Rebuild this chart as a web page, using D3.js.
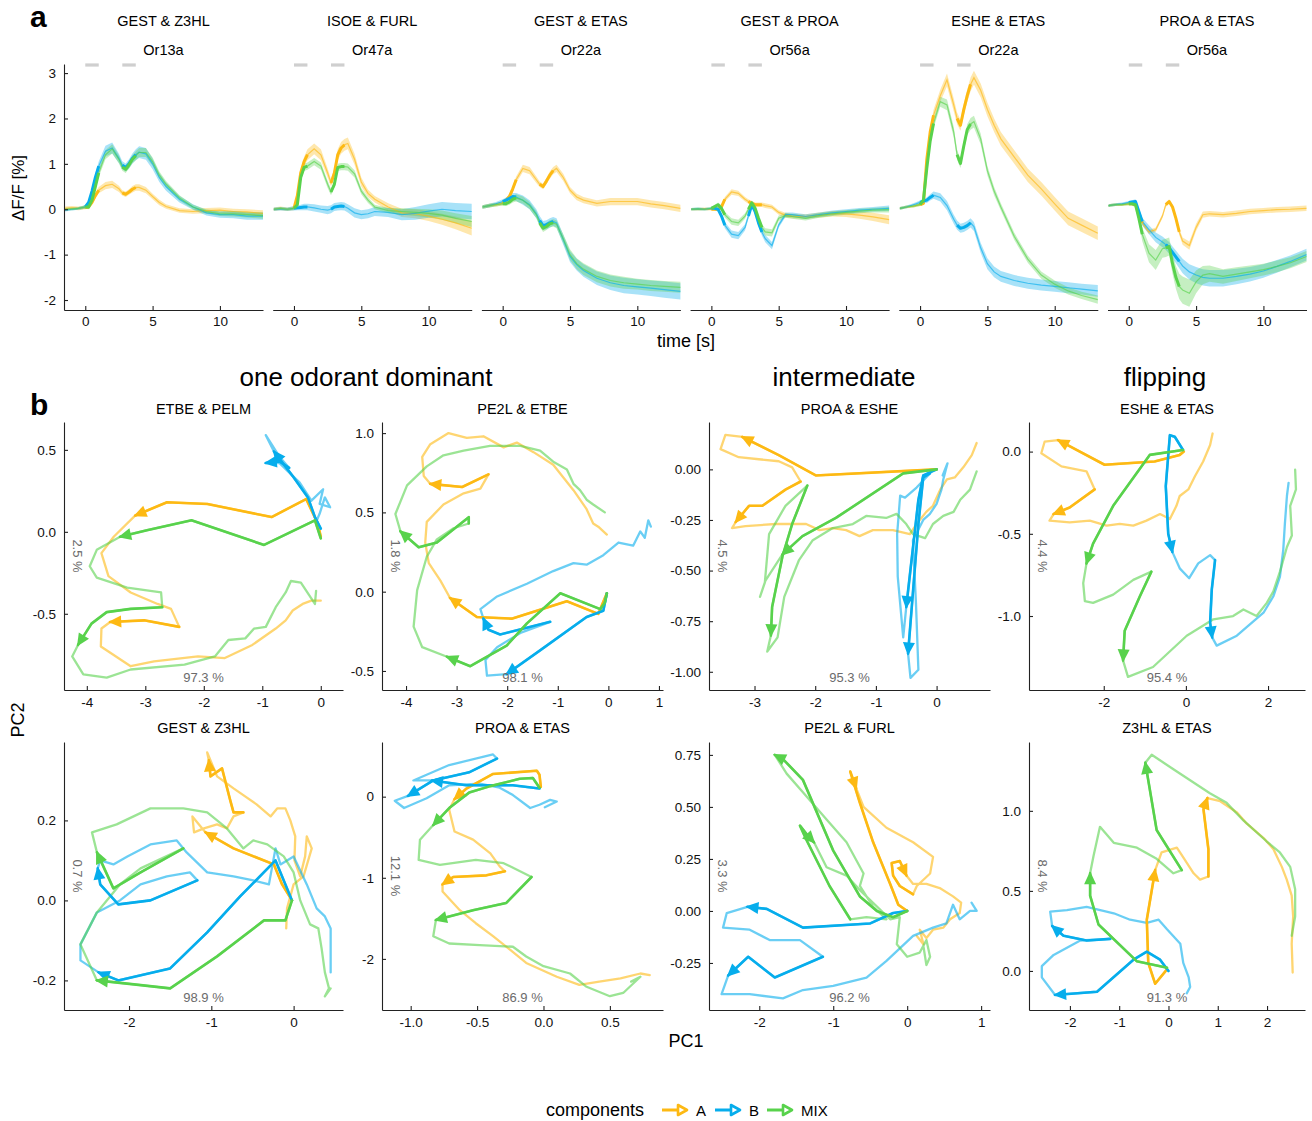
<!DOCTYPE html>
<html><head><meta charset="utf-8">
<script src="https://cdn.jsdelivr.net/npm/d3@7"></script>
<style>
body{margin:0;background:#fff}
svg{font-family:"Liberation Sans",Arial,Helvetica,sans-serif}
</style>
</head><body>
<svg id="c" width="1312" height="1121"></svg>
<script>
// ---------------- DATA: panel a ----------------
const aTitles = ["GEST & Z3HL","ISOE & FURL","GEST & ETAS","GEST & PROA","ESHE & ETAS","PROA & ETAS"];
const aReceptors = ["Or13a","Or47a","Or22a","Or56a","Or22a","Or56a"];
const aTime = [-1.5,-1,-0.5,0,0.25,0.5,0.75,1,1.5,2,2.5,2.75,3,3.25,3.5,3.75,4,4.5,5,5.5,6,7,8,9,10,11,12,13.2];
const aXTicks = [0,5,10];
const aYTicks = [-2,-1,0,1,2,3];
const stimWindows = [[0,1],[2.75,3.75]];

const meanA = [
 [0.02,0.03,0.02,0.04,0.05,0.15,0.3,0.42,0.52,0.55,0.45,0.36,0.33,0.38,0.44,0.48,0.48,0.42,0.28,0.15,0.06,-0.03,-0.05,-0.03,-0.02,-0.05,-0.06,-0.09],
 [0.0,0.02,0.0,0.02,0.3,0.8,1.05,1.2,1.33,1.2,0.8,0.58,0.8,1.2,1.35,1.42,1.45,1.1,0.6,0.35,0.22,0.05,-0.08,-0.1,-0.15,-0.22,-0.3,-0.42],
 [0.05,0.08,0.1,0.13,0.2,0.28,0.45,0.65,0.9,0.85,0.65,0.55,0.5,0.62,0.75,0.85,0.9,0.7,0.42,0.27,0.2,0.13,0.17,0.17,0.17,0.12,0.08,0.02],
 [0.0,0.0,0.01,0.0,0.0,0.0,0.05,0.22,0.38,0.35,0.22,0.17,0.13,0.1,0.1,0.1,0.08,0.05,-0.07,-0.13,-0.15,-0.16,-0.13,-0.1,-0.1,-0.13,-0.17,-0.23],
 [0.02,0.05,0.07,0.1,0.13,1.1,1.7,2.07,2.5,2.85,2.3,2.0,1.85,2.2,2.5,2.75,2.9,2.62,2.2,1.85,1.55,1.15,0.75,0.45,0.12,-0.2,-0.35,-0.53],
 [0.08,0.1,0.1,0.12,0.12,0.1,-0.1,-0.3,-0.5,-0.45,-0.15,0.1,0.17,0.05,-0.2,-0.5,-0.7,-0.8,-0.4,-0.12,-0.1,-0.12,-0.09,-0.05,-0.03,-0.01,0.0,0.02]
];
const meanB = [
 [-0.02,0.0,0.02,0.05,0.15,0.4,0.7,0.95,1.28,1.35,1.12,0.97,0.92,1.0,1.12,1.2,1.26,1.22,1.0,0.7,0.5,0.22,0.05,-0.08,-0.12,-0.12,-0.15,-0.15],
 [0.0,0.01,0.0,0.02,0.03,0.04,0.05,0.05,0.03,0.0,-0.02,0.0,0.05,0.06,0.07,0.06,0.02,-0.08,-0.12,-0.1,-0.05,-0.07,-0.12,-0.09,-0.04,0.0,-0.03,-0.05],
 [0.05,0.08,0.12,0.17,0.2,0.24,0.28,0.27,0.2,0.1,-0.1,-0.25,-0.36,-0.34,-0.3,-0.27,-0.3,-0.67,-1.04,-1.22,-1.35,-1.52,-1.62,-1.68,-1.71,-1.74,-1.77,-1.81],
 [0.0,0.01,0.0,0.02,0.02,0.0,-0.15,-0.35,-0.55,-0.58,-0.4,-0.15,0.1,-0.05,-0.3,-0.5,-0.65,-0.8,-0.35,-0.12,-0.12,-0.16,-0.12,-0.08,-0.05,-0.02,0.0,0.02],
 [0.02,0.05,0.1,0.15,0.18,0.2,0.26,0.31,0.26,0.08,-0.22,-0.35,-0.42,-0.4,-0.36,-0.3,-0.38,-0.85,-1.2,-1.38,-1.48,-1.57,-1.63,-1.67,-1.7,-1.73,-1.76,-1.8],
 [0.08,0.1,0.12,0.15,0.16,0.17,-0.05,-0.27,-0.45,-0.62,-0.72,-0.78,-0.85,-0.95,-1.05,-1.15,-1.25,-1.38,-1.45,-1.5,-1.52,-1.52,-1.48,-1.43,-1.36,-1.26,-1.15,-1.0]
];
const meanMIX = [
 [0.0,0.01,0.02,0.05,0.05,0.2,0.5,0.8,1.2,1.33,1.1,0.93,0.88,0.98,1.1,1.18,1.25,1.25,1.05,0.75,0.55,0.25,0.05,-0.05,-0.1,-0.1,-0.12,-0.14],
 [0.0,0.02,0.0,0.02,0.1,0.7,0.92,0.95,1.05,0.95,0.55,0.38,0.55,0.92,0.94,0.94,0.93,0.78,0.4,0.2,0.05,-0.03,-0.05,-0.07,-0.09,-0.13,-0.2,-0.27],
 [0.05,0.08,0.1,0.12,0.12,0.16,0.22,0.25,0.2,0.08,-0.12,-0.3,-0.42,-0.38,-0.32,-0.3,-0.33,-0.65,-1.0,-1.2,-1.32,-1.48,-1.57,-1.62,-1.65,-1.68,-1.7,-1.72],
 [0.0,0.01,0.0,0.02,0.06,0.1,0.02,-0.12,-0.27,-0.3,-0.15,0.0,0.14,0.02,-0.2,-0.4,-0.5,-0.52,-0.2,-0.14,-0.16,-0.2,-0.14,-0.1,-0.07,-0.04,-0.02,-0.01],
 [0.02,0.05,0.07,0.1,0.2,0.9,1.5,1.89,2.37,2.3,1.7,1.2,1.01,1.4,1.75,1.88,1.93,1.55,0.85,0.4,0.05,-0.6,-1.1,-1.45,-1.65,-1.8,-1.9,-1.99],
 [0.08,0.1,0.1,0.12,0.12,0.1,-0.2,-0.55,-0.97,-1.12,-0.87,-0.85,-0.82,-1.2,-1.5,-1.7,-1.78,-1.85,-1.6,-1.45,-1.42,-1.48,-1.43,-1.38,-1.33,-1.26,-1.18,-1.04]
];
const semA = [
 [.04,.04,.04,.04,.04,.05,.06,.07,.08,.08,.07,.06,.06,.06,.07,.07,.07,.07,.06,.06,.05,.05,.05,.06,.06,.06,.06,.07],
 [.04,.04,.04,.04,.05,.08,.1,.12,.12,.12,.1,.08,.1,.12,.13,.13,.13,.12,.1,.08,.07,.08,.09,.1,.11,.12,.14,.16],
 [.04,.04,.04,.04,.05,.06,.07,.07,.08,.08,.07,.06,.06,.07,.08,.08,.08,.08,.07,.07,.07,.07,.08,.08,.08,.08,.08,.08],
 [.03,.03,.03,.03,.03,.04,.05,.05,.06,.06,.05,.05,.05,.05,.05,.05,.05,.05,.05,.05,.05,.05,.06,.06,.07,.08,.09,.1],
 [.03,.03,.03,.03,.04,.08,.1,.12,.13,.14,.14,.13,.12,.13,.14,.15,.15,.15,.15,.15,.15,.15,.15,.15,.15,.15,.15,.15],
 [.03,.03,.03,.03,.03,.04,.05,.05,.05,.05,.05,.05,.05,.05,.06,.07,.08,.09,.08,.07,.06,.06,.06,.06,.06,.06,.06,.06]
];
const semB = [
 [.03,.03,.03,.04,.05,.07,.08,.1,.12,.12,.1,.09,.09,.1,.11,.12,.13,.13,.12,.1,.09,.07,.06,.06,.07,.08,.08,.08],
 [.04,.04,.04,.05,.05,.06,.07,.07,.08,.08,.09,.09,.09,.09,.09,.09,.09,.1,.1,.1,.1,.1,.12,.14,.15,.16,.17,.17],
 [.04,.04,.04,.05,.06,.07,.08,.09,.1,.1,.1,.1,.1,.1,.1,.1,.1,.11,.12,.13,.14,.15,.16,.17,.17,.17,.18,.18],
 [.03,.03,.03,.03,.04,.05,.06,.07,.08,.08,.07,.06,.06,.06,.07,.08,.08,.08,.06,.05,.05,.05,.05,.05,.05,.05,.05,.06],
 [.03,.03,.03,.04,.05,.06,.07,.08,.09,.1,.1,.1,.1,.1,.1,.1,.1,.11,.12,.12,.12,.12,.12,.12,.12,.12,.12,.13],
 [.03,.03,.03,.03,.04,.05,.06,.08,.1,.11,.12,.12,.13,.13,.14,.15,.16,.17,.18,.18,.18,.18,.17,.16,.15,.14,.13,.13]
];
const semMIX = [
 [.03,.03,.03,.04,.05,.06,.08,.09,.1,.1,.09,.08,.08,.08,.09,.1,.1,.1,.09,.08,.07,.06,.05,.05,.05,.06,.06,.07],
 [.03,.03,.03,.03,.04,.07,.08,.08,.08,.08,.08,.07,.07,.08,.08,.08,.08,.08,.07,.06,.05,.06,.07,.08,.09,.1,.11,.12],
 [.04,.04,.04,.04,.05,.06,.07,.08,.08,.08,.08,.08,.08,.08,.08,.08,.09,.1,.12,.12,.13,.13,.13,.13,.12,.12,.12,.12],
 [.03,.03,.03,.03,.04,.05,.06,.06,.07,.07,.06,.05,.05,.05,.06,.07,.08,.08,.06,.05,.05,.05,.05,.05,.05,.05,.05,.06],
 [.03,.03,.03,.03,.04,.07,.09,.1,.11,.12,.12,.11,.1,.11,.12,.13,.13,.12,.1,.09,.08,.08,.08,.08,.08,.08,.08,.09],
 [.03,.03,.03,.03,.04,.06,.1,.15,.2,.22,.2,.2,.2,.22,.25,.28,.3,.3,.25,.2,.18,.16,.15,.14,.13,.13,.12,.12]
];

// ---------------- DATA: panel b (PC1, PC2, during-stimulus flag) ----------------
const bTitles = ["ETBE & PELM","PE2L & ETBE","PROA & ESHE","ESHE & ETAS","GEST & Z3HL","PROA & ETAS","PE2L & FURL","Z3HL & ETAS"];
const pc1Var = [97.3,98.1,95.3,95.4,98.9,86.9,96.2,91.3];
const pc2Var = [2.5,1.8,4.5,4.4,0.7,12.1,3.3,8.4];
const groupLabels = ["one odorant dominant","intermediate","flipping"];
const bXTicks = [[-4,-3,-2,-1,0],[-4,-3,-2,-1,0,1],[-3,-2,-1,0],[-2,0,2],[-2,-1,0],[-1,-0.5,0,0.5],[-2,-1,0,1],[-2,-1,0,1,2]];
const bYTicks = [[-0.5,0,0.5],[-0.5,0,0.5,1],[-1,-0.75,-0.5,-0.25,0],[-1,-0.5,0],[-0.2,0,0.2],[-2,-1,0],[-0.25,0,0.25,0.5,0.75],[0,0.5,1]];
const bXFmt = ["d","d","d","d","d",".1f","d","d"];
const bYFmt = [".1f",".1f",".2f",".1f",".1f","d",".2f",".1f"];
const bXDom = [[-4.39,0.38],[-4.475,1.08],[-3.75,0.88],[-3.82,2.9],[-2.79,0.6],[-1.216,0.9],[-2.68,1.12],[-2.83,2.77]];
const bYDom = [[-0.965,0.67],[-0.62,1.07],[-1.09,0.234],[-1.45,0.18],[-0.274,0.396],[-2.63,0.674],[-0.476,0.812],[-0.244,1.43]];

const trajA = [
 [[0,-0.03,1],[-0.05,0.05,1],[-0.25,0.2,1],[-0.84,0.09,1],[-1.94,0.17,1],[-2.63,0.18,1],[-3.17,0.10,1],[-3.54,-0.03,0],[-3.75,-0.13,0],[-3.63,-0.27,0],[-3.25,-0.37,0],[-2.79,-0.44,0],[-2.56,-0.47,0],[-2.42,-0.58,1],[-3.02,-0.54,1],[-3.60,-0.55,1],[-3.75,-0.59,0],[-3.76,-0.70,0],[-3.25,-0.82,0],[-2.85,-0.79,0],[-2.10,-0.76,0],[-1.64,-0.77,0],[-1.17,-0.69,0],[-0.77,-0.59,0],[-0.60,-0.54,0],[-0.48,-0.48,0],[-0.31,-0.44,0],[-0.16,-0.42,0],[0,-0.42,0]],
 [[-0.03,-0.01,1],[-0.20,-0.14,1],[-0.82,-0.06,1],[-1.91,-0.17,1],[-2.60,-0.16,1],[-3.13,-0.04,1],[-3.32,0.07,0],[-3.55,0.18,0],[-3.62,0.31,0],[-3.59,0.44,0],[-3.26,0.55,0],[-2.86,0.62,0],[-2.53,0.65,0],[-2.37,0.74,1],[-2.89,0.66,1],[-3.52,0.68,1],[-3.65,0.73,0],[-3.68,0.85,0],[-3.52,0.93,0],[-3.16,1.00,0],[-2.80,0.97,0],[-2.47,0.98,0],[-2.07,0.91,0],[-1.81,0.94,0],[-1.48,0.88,0],[-1.09,0.80,0],[-0.69,0.64,0],[-0.43,0.52,0],[-0.30,0.43,0],[-0.20,0.41,0],[-0.03,0.36,0]],
 [[0,0,1],[-1.99,-0.03,1],[-2.60,0.07,1],[-3.20,0.16,1],[-3.48,0.17,0],[-3.56,0.10,0],[-3.26,0.06,0],[-2.93,0.05,0],[-2.60,0.04,0],[-2.38,0.01,0],[-2.24,-0.06,1],[-2.49,-0.10,1],[-2.87,-0.18,1],[-3.09,-0.18,1],[-3.31,-0.26,1],[-3.37,-0.29,0],[-3.15,-0.28,0],[-2.65,-0.27,0],[-2.15,-0.27,0],[-1.93,-0.30,0],[-1.71,-0.29,0],[-1.49,-0.30,0],[-1.27,-0.33,0],[-1.05,-0.30,0],[-0.72,-0.30,0],[-0.44,-0.32,0],[-0.33,-0.27,0],[-0.17,-0.21,0],[-0.06,-0.18,0],[0.06,-0.10,0],[0.17,-0.05,0],[0.30,-0.04,0],[0.44,0.01,0],[0.58,0.07,0],[0.66,0.13,0]],
 [[-0.05,0,1],[-0.15,-0.02,1],[-0.76,-0.06,1],[-1.98,-0.08,1],[-3.11,0.07,1],[-3.44,0.06,0],[-3.52,-0.01,0],[-3.03,-0.09,0],[-2.42,-0.12,0],[-2.22,-0.23,1],[-2.83,-0.34,1],[-3.22,-0.38,1],[-3.32,-0.42,0],[-2.83,-0.43,0],[-2.34,-0.42,0],[-1.93,-0.45,0],[-1.61,-0.44,0],[-1.28,-0.45,0],[-0.96,-0.42,0],[-0.63,-0.38,0],[-0.39,-0.41,0],[-0.23,-0.33,0],[-0.15,-0.27,0],[0.06,-0.23,0],[0.22,-0.15,0],[0.42,-0.06,0],[0.59,0.04,0],[0.65,0.11,0]],
 [[-0.02,0,1],[-0.14,0.04,1],[-0.24,0.09,1],[-0.73,0.13,1],[-1.07,0.17,1],[-1.23,0.21,0],[-1.21,0.17,0],[-1.09,0.18,0],[-0.93,0.19,0],[-0.81,0.18,0],[-0.73,0.21,0],[-0.61,0.22,1],[-0.73,0.22,1],[-0.77,0.25,1],[-0.87,0.33,1],[-1.01,0.31,1],[-1.03,0.35,1],[-1.05,0.37,0],[-0.93,0.31,0],[-0.73,0.28,0],[-0.45,0.24,0],[-0.28,0.21,0],[-0.20,0.23,0],[-0.10,0.23,0],[-0.04,0.20,0],[0.02,0.16,0],[0.01,0.10,0],[0.08,0.06,0],[0.14,0.11,0],[0.16,0.16,0],[0.22,0.13,0],[0.12,0.06,0],[0,0.04,0],[-0.08,-0.02,0],[-0.09,-0.07,0]],
 [[-0.02,0.12,1],[-0.03,0.27,1],[-0.05,0.32,1],[-0.38,0.28,1],[-0.58,0.10,1],[-0.67,-0.03,1],[-0.71,-0.16,0],[-0.67,-0.43,0],[-0.53,-0.53,0],[-0.40,-0.70,0],[-0.33,-0.86,0],[-0.29,-0.92,1],[-0.43,-0.97,1],[-0.68,-0.99,1],[-0.76,-1.08,1],[-0.76,-1.17,0],[-0.63,-1.40,0],[-0.51,-1.56,0],[-0.38,-1.72,0],[-0.25,-1.89,0],[-0.13,-2.05,0],[0.10,-2.22,0],[0.27,-2.32,0],[0.42,-2.28,0],[0.58,-2.24,0],[0.73,-2.18,0],[0.80,-2.20,0]],
 [[0,0,1],[-0.12,0.03,1],[-0.23,0.13,1],[-0.46,0.33,1],[-0.64,0.52,1],[-0.77,0.67,1],[-0.69,0.59,1],[-0.59,0.50,0],[-0.28,0.40,0],[0.08,0.33,0],[0.35,0.26,0],[0.31,0.18,0],[0.13,0.12,0],[0.08,0.08,1],[-0.10,0.12,1],[-0.19,0.17,1],[-0.21,0.23,1],[-0.10,0.24,1],[-0.01,0.17,1],[0.08,0.13,0],[0.26,0.13,0],[0.44,0.11,0],[0.62,0.07,0],[0.73,0.04,0],[0.71,-0.01,0],[0.58,-0.04,0],[0.49,-0.08,0],[0.35,-0.09,0],[0.26,-0.13,0],[0.17,-0.09,0],[0.22,-0.16,0],[0.13,-0.12,0]],
 [[-0.03,0.01,1],[-0.27,-0.08,1],[-0.41,0.05,1],[-0.44,0.32,1],[-0.27,0.63,1],[-0.14,0.74,0],[0.17,0.77,0],[0.30,0.71,0],[0.51,0.61,0],[0.64,0.57,0],[0.81,0.59,1],[0.81,0.76,1],[0.71,1.01,1],[0.79,1.08,1],[1.05,1.06,0],[1.39,0.99,0],[1.59,0.92,0],[1.93,0.83,0],[2.13,0.76,0],[2.30,0.65,0],[2.40,0.57,0],[2.50,0.47,0],[2.53,0.34,0],[2.50,0.17,0],[2.52,-0.01,0]]
];
const trajB = [
 [[0,0.02,1],[-0.10,0.09,1],[-0.22,0.21,1],[-0.48,0.34,1],[-0.80,0.49,1],[-0.94,0.59,0],[-0.71,0.46,0],[-0.54,0.39,1],[-0.71,0.43,1],[-0.94,0.42,1],[-0.71,0.42,0],[-0.36,0.30,0],[-0.16,0.19,0],[0.04,0.26,0],[-0.02,0.17,0],[0.16,0.15,0],[0.07,0.21,0],[-0.02,0.11,0],[-0.08,0.06,0]],
 [[-0.03,-0.01,1],[-0.10,-0.12,1],[-0.43,-0.16,1],[-1.35,-0.37,1],[-2.01,-0.52,1],[-2.40,-0.53,0],[-2.43,-0.43,0],[-2.20,-0.35,0],[-1.74,-0.26,0],[-1.15,-0.19,1],[-2.14,-0.27,1],[-2.37,-0.24,1],[-2.47,-0.17,1],[-2.53,-0.11,0],[-2.20,-0.03,0],[-1.61,0.05,0],[-1.09,0.13,0],[-0.69,0.18,0],[-0.43,0.17,0],[-0.10,0.23,0],[0.20,0.31,0],[0.49,0.29,0],[0.63,0.38,0],[0.72,0.34,0],[0.79,0.45,0],[0.84,0.41,0]],
 [[0,0,1],[-0.22,-0.03,1],[-0.30,-0.15,1],[-0.50,-0.68,1],[-0.55,-0.83,0],[-0.64,-0.53,0],[-0.65,-0.32,0],[-0.60,-0.13,0],[-0.52,-0.14,0],[-0.33,-0.09,0],[-0.11,-0.02,1],[-0.22,-0.04,1],[-0.30,-0.27,1],[-0.47,-0.91,1],[-0.43,-1.03,0],[-0.30,-0.99,0],[-0.34,-0.66,0],[-0.39,-0.35,0],[-0.22,-0.25,0],[-0.11,-0.22,0],[0,-0.17,0],[0.08,-0.10,0],[0.11,-0.05,0],[0.18,0.03,0],[0.10,-0.03,0]],
 [[-0.07,0.01,1],[-0.27,0.09,1],[-0.39,0.10,1],[-0.49,-0.21,1],[-0.43,-0.50,1],[-0.33,-0.61,1],[-0.15,-0.71,0],[0.08,-0.77,0],[0.30,-0.68,0],[0.59,-0.63,0],[0.71,-0.66,1],[0.63,-0.84,1],[0.59,-1.04,1],[0.64,-1.13,1],[0.75,-1.18,0],[1.24,-1.12,0],[1.89,-0.98,0],[2.13,-0.88,0],[2.29,-0.76,0],[2.37,-0.60,0],[2.41,-0.44,0],[2.46,-0.27,0],[2.50,-0.19,0]],
 [[-0.02,0,1],[-0.12,0.05,1],[-0.22,0.10,1],[-0.65,0.01,1],[-1.05,-0.08,1],[-1.50,-0.17,1],[-2.13,-0.20,1],[-2.37,-0.18,1],[-2.59,-0.15,0],[-2.59,-0.11,0],[-2.39,-0.03,0],[-2.11,0,0],[-1.86,0.04,0],[-1.54,0.06,0],[-1.26,0.07,0],[-1.17,0.05,1],[-1.74,0,1],[-2.13,-0.01,1],[-2.35,0.04,1],[-2.38,0.08,1],[-2.35,0.10,0],[-2.19,0.09,0],[-2.02,0.11,0],[-1.74,0.14,0],[-1.42,0.15,0],[-1.30,0.12,0],[-1.05,0.07,0],[-0.73,0.06,0],[-0.49,0.05,0],[-0.30,0.04,0],[-0.22,0.13,0],[-0.16,0.09,0],[0,0.11,0],[0.16,0.04,0],[0.28,-0.02,0],[0.38,-0.04,0],[0.45,-0.07,0],[0.45,-0.12,0],[0.45,-0.18,0]],
 [[-0.03,0.10,1],[-0.23,0.14,1],[-0.58,0.14,1],[-0.84,0.20,1],[-0.98,0.20,0],[-0.71,0.39,0],[-0.38,0.52,0],[-0.35,0.47,1],[-0.56,0.30,1],[-0.83,0.20,1],[-1.02,0.01,1],[-1.12,-0.05,0],[-1.05,-0.14,0],[-0.88,-0.02,0],[-0.71,0.14,0],[-0.48,0.16,0],[-0.33,0.11,0],[-0.23,0.02,0],[-0.10,-0.14,0],[-0.03,-0.10,0],[0.05,-0.04,0],[0.10,-0.06,0],[0.01,-0.13,0]],
 [[0,0,1],[-0.19,-0.01,1],[-0.50,-0.06,1],[-1.41,-0.08,1],[-1.90,0.01,1],[-2.16,0.02,1],[-2.44,-0.01,0],[-2.49,-0.08,0],[-2.13,-0.09,0],[-1.86,-0.14,0],[-1.45,-0.14,0],[-1.14,-0.22,1],[-1.79,-0.32,1],[-2.15,-0.22,1],[-2.42,-0.31,1],[-2.51,-0.40,0],[-2.13,-0.40,0],[-1.68,-0.42,0],[-1.41,-0.38,0],[-1.00,-0.36,0],[-0.55,-0.32,0],[-0.28,-0.24,0],[0.08,-0.12,0],[0.35,-0.08,0],[0.53,-0.06,0],[0.62,0.03,0],[0.71,-0.04,0],[0.85,0,0],[0.94,0,0],[0.87,0.04,0]],
 [[0,0,1],[-0.17,0.07,1],[-0.44,0.12,1],[-0.71,0.07,1],[-1.45,-0.13,1],[-2.30,-0.15,1],[-2.57,-0.04,0],[-2.57,0.03,0],[-2.33,0.10,0],[-1.79,0.19,0],[-1.18,0.20,1],[-1.66,0.19,1],[-2.13,0.22,1],[-2.36,0.28,1],[-2.40,0.37,0],[-2.06,0.38,0],[-1.66,0.40,0],[-1.11,0.36,0],[-0.78,0.32,0],[-0.44,0.30,0],[-0.20,0.32,0],[-0.03,0.26,0],[0.24,0.17,0],[0.30,0.05,0],[0.41,-0.04,0],[0.44,-0.10,0],[0.37,-0.14,0]]
];
const trajMIX = [
 [[0,-0.04,1],[-0.10,0.07,1],[-0.97,-0.08,1],[-2.21,0.07,1],[-2.97,0.01,1],[-3.43,-0.03,1],[-3.83,-0.11,0],[-3.95,-0.21,0],[-3.83,-0.28,0],[-3.31,-0.34,0],[-2.73,-0.37,0],[-2.71,-0.46,1],[-3.25,-0.47,1],[-3.66,-0.49,1],[-3.92,-0.56,1],[-4.15,-0.69,1],[-4.25,-0.76,0],[-4.06,-0.87,0],[-3.66,-0.89,0],[-3.25,-0.84,0],[-2.33,-0.81,0],[-1.81,-0.76,0],[-1.58,-0.66,0],[-1.29,-0.65,0],[-1.14,-0.59,0],[-0.94,-0.58,0],[-0.77,-0.46,0],[-0.60,-0.37,0],[-0.51,-0.30,0],[-0.34,-0.31,0],[-0.10,-0.44,0],[-0.08,-0.36,0]],
 [[-0.03,-0.01,1],[-0.07,-0.07,1],[-0.16,-0.11,1],[-0.95,-0.01,1],[-1.61,-0.20,1],[-2.01,-0.34,1],[-2.73,-0.47,1],[-3.19,-0.41,1],[-3.68,-0.35,0],[-3.85,-0.22,0],[-3.78,0.01,0],[-3.59,0.22,0],[-3.39,0.33,0],[-3.06,0.40,0],[-2.76,0.43,1],[-2.76,0.47,1],[-3.39,0.31,1],[-3.75,0.28,1],[-4.11,0.38,1],[-4.21,0.49,0],[-3.98,0.67,0],[-3.59,0.79,0],[-3.26,0.86,0],[-2.86,0.89,0],[-2.34,0.92,0],[-1.74,0.92,0],[-1.35,0.89,0],[-1.09,0.82,0],[-0.82,0.77,0],[-0.69,0.68,0],[-0.56,0.64,0],[-0.43,0.58,0],[-0.30,0.55,0],[-0.07,0.50,0]],
 [[0,0,1],[-0.55,-0.02,1],[-1.66,-0.24,1],[-2.21,-0.33,1],[-2.54,-0.42,1],[-2.82,-0.55,0],[-2.91,-0.63,0],[-2.83,-0.56,0],[-2.76,-0.32,0],[-2.49,-0.18,0],[-2.13,-0.08,1],[-2.38,-0.27,1],[-2.54,-0.43,1],[-2.71,-0.68,1],[-2.73,-0.82,1],[-2.79,-0.90,0],[-2.62,-0.83,0],[-2.51,-0.63,0],[-2.27,-0.45,0],[-2.04,-0.35,0],[-1.71,-0.29,0],[-1.38,-0.27,0],[-1.16,-0.23,0],[-0.83,-0.24,0],[-0.66,-0.22,0],[-0.50,-0.27,0],[-0.39,-0.32,0],[-0.19,-0.34,0],[-0.06,-0.27,0],[0.11,-0.23,0],[0.28,-0.21,0],[0.39,-0.15,0],[0.55,-0.10,0],[0.66,-0.01,0]],
 [[-0.07,0.01,1],[-0.88,-0.02,1],[-1.77,-0.33,1],[-2.26,-0.56,1],[-2.42,-0.68,1],[-2.50,-0.80,0],[-2.46,-0.91,0],[-2.26,-0.92,0],[-1.77,-0.87,0],[-1.28,-0.78,0],[-0.84,-0.73,1],[-1.12,-0.88,1],[-1.49,-1.09,1],[-1.53,-1.27,1],[-1.41,-1.37,0],[-0.80,-1.31,0],[0.02,-1.12,0],[0.67,-1.02,0],[1.15,-1.00,0],[1.40,-0.96,0],[1.72,-1.00,0],[1.97,-0.92,0],[2.13,-0.85,0],[2.29,-0.73,0],[2.46,-0.58,0],[2.58,-0.51,0],[2.54,-0.33,0],[2.68,-0.23,0],[2.66,-0.11,0]],
 [[-0.02,0,1],[-0.10,-0.05,1],[-0.36,-0.05,1],[-0.93,-0.14,1],[-1.50,-0.22,1],[-1.94,-0.21,1],[-2.39,-0.20,1],[-2.59,-0.11,0],[-2.39,-0.03,0],[-2.11,0.04,0],[-1.86,0.08,0],[-1.34,0.13,1],[-1.86,0.07,1],[-2.19,0.03,1],[-2.39,0.12,1],[-2.45,0.17,0],[-2.15,0.19,0],[-1.74,0.23,0],[-1.34,0.23,0],[-1.05,0.22,0],[-0.81,0.18,0],[-0.61,0.13,0],[-0.49,0.15,0],[-0.32,0.14,0],[-0.12,0.11,0],[0,0.07,0],[0.08,0,0],[0.20,-0.06,0],[0.30,-0.07,0],[0.34,-0.12,0],[0.38,-0.18,0],[0.43,-0.22,0],[0.38,-0.24,0],[0.45,-0.22,0]],
 [[-0.03,0.11,1],[-0.08,0.23,1],[-0.18,0.22,1],[-0.40,0.13,1],[-0.56,0.05,1],[-0.71,-0.14,1],[-0.83,-0.35,1],[-0.93,-0.53,0],[-0.94,-0.78,0],[-0.78,-0.84,0],[-0.51,-0.78,0],[-0.30,-0.82,0],[-0.09,-0.99,1],[-0.28,-1.31,1],[-0.53,-1.40,1],[-0.81,-1.52,1],[-0.83,-1.72,0],[-0.71,-1.81,0],[-0.48,-1.83,0],[-0.23,-1.85,0],[-0.13,-1.97,0],[0,-2.09,0],[0.20,-2.18,0],[0.32,-2.34,0],[0.50,-2.46,0],[0.60,-2.42,0],[0.73,-2.22,0],[0.66,-2.28,0]],
 [[0,0,1],[-0.19,-0.03,1],[-0.41,0,1],[-0.64,0.07,1],[-1.00,0.29,1],[-1.41,0.63,1],[-1.68,0.73,1],[-1.79,0.75,1],[-1.63,0.66,0],[-1.41,0.57,0],[-1.09,0.44,0],[-0.82,0.33,0],[-0.59,0.18,0],[-0.64,0.12,0],[-0.46,0.02,0],[-0.28,-0.04,0],[-0.55,-0.03,0],[-0.77,-0.04,1],[-1.05,0.12,1],[-1.36,0.34,1],[-1.45,0.41,1],[-1.34,0.36,1],[-1.26,0.33,1],[-1.09,0.21,0],[-0.82,0.17,0],[-0.64,0.10,0],[-0.23,-0.04,0],[-0.10,-0.03,0],[-0.14,-0.16,0],[0,-0.22,0],[0.17,-0.20,0],[0.26,-0.14,0],[0.31,-0.22,0],[0.26,-0.26,0],[0.22,-0.17,0]],
 [[-0.03,0.02,1],[-0.64,0.06,1],[-1.42,0.29,1],[-1.59,0.47,1],[-1.59,0.61,1],[-1.52,0.72,0],[-1.39,0.90,0],[-1.11,0.80,0],[-0.64,0.77,0],[-0.24,0.70,0],[0.10,0.61,0],[0.27,0.63,1],[-0.24,0.88,1],[-0.47,1.30,1],[-0.34,1.35,0],[0.10,1.26,0],[0.84,1.11,0],[1.18,1.05,0],[1.52,0.94,0],[1.99,0.81,0],[2.26,0.74,0],[2.47,0.65,0],[2.57,0.51,0],[2.57,0.34,0],[2.50,0.22,0]]
];
const compNames = ["A","B","MIX"];

// ---------------- RENDER ----------------
const svg = d3.select('#c');
const colors = {A:'#FDB913', B:'#06ADEC', MIX:'#58D24C'};
const FONT = '"Liberation Sans",Arial,Helvetica,sans-serif';
const fmt = f => v => d3.format(f)(v).replace('\u2212','-');

function styleAxis(g){
  g.selectAll('.domain').attr('stroke','#222').attr('stroke-width',1.1);
  g.selectAll('.tick line').attr('stroke','#222').attr('stroke-width',1.1);
  g.selectAll('.tick text').attr('fill','#111').style('font-size','13.5px').style('font-family',FONT);
}

svg.append('text').attr('x',30).attr('y',27).text('a').style('font-weight','bold').style('font-size','30px');
svg.append('text').attr('x',30).attr('y',415).text('b').style('font-weight','bold').style('font-size','30px');

// ---- panel a ----
const aLeft0 = 64, aStep = 208.7, aW = 199, aTop = 64, aBot = 310;
const series = [
  {key:'A', mean:meanA, sem:semA},
  {key:'B', mean:meanB, sem:semB},
  {key:'MIX', mean:meanMIX, sem:semMIX}
];
aTitles.forEach((title,i)=>{
  const left = aLeft0 + i*aStep;
  const x = d3.scaleLinear().domain([-1.58,13.2]).range([left,left+aW]);
  const y = d3.scaleLinear().domain([-2.22,3.2]).range([aBot,aTop]);
  const g = svg.append('g');
  g.append('text').attr('x',left+aW/2).attr('y',26).attr('text-anchor','middle').style('font-size','14.5px').text(title);
  g.append('text').attr('x',left+aW/2).attr('y',55).attr('text-anchor','middle').style('font-size','14.5px').text(aReceptors[i]);
  stimWindows.forEach(w=>{
    g.append('line').attr('x1',x(w[0])).attr('x2',x(w[1])).attr('y1',65).attr('y2',65)
      .attr('stroke','#cfcfcf').attr('stroke-width',3.2);
  });
  series.forEach(s=>{
    const m = s.mean[i], e = s.sem[i];
    const area = d3.area().x((d,j)=>x(aTime[j])).y0((d,j)=>y(m[j]-e[j])).y1((d,j)=>y(m[j]+e[j]));
    g.append('path').datum(m).attr('d',area).attr('fill',colors[s.key]).attr('fill-opacity',0.35);
  });
  series.forEach(s=>{
    const m = s.mean[i];
    const line = d3.line().x((d,j)=>x(aTime[j])).y(d=>y(d));
    g.append('path').datum(m).attr('d',line).attr('fill','none').attr('stroke',colors[s.key])
      .attr('stroke-opacity',0.65).attr('stroke-width',1.2);
  });
  series.forEach(s=>{
    const m = s.mean[i];
    stimWindows.forEach(w=>{
      const pts = aTime.map((t,j)=>[t,m[j]]).filter(p=>p[0]>=w[0]&&p[0]<=w[1]);
      g.append('path').datum(pts).attr('d',d3.line().x(p=>x(p[0])).y(p=>y(p[1])))
        .attr('fill','none').attr('stroke',colors[s.key]).attr('stroke-width',3).attr('stroke-linejoin','round');
    });
  });
  const xa = g.append('g').attr('transform',`translate(0,${aBot})`)
    .call(d3.axisBottom(x).tickValues(aXTicks).tickSize(-4).tickSizeOuter(0).tickPadding(6));
  styleAxis(xa);
  if(i===0){
    const ya = g.append('g').attr('transform',`translate(${left},0)`)
      .call(d3.axisLeft(y).tickValues(aYTicks).tickSize(-4).tickSizeOuter(0).tickPadding(8).tickFormat(fmt('d')));
    styleAxis(ya);
  }
});
svg.append('text').attr('transform','translate(24,188) rotate(-90)').attr('text-anchor','middle')
  .style('font-size','17px').text('\u0394F/F [%]');
svg.append('text').attr('x',686).attr('y',347).attr('text-anchor','middle').style('font-size','18px').text('time [s]');

// ---- panel b ----
const groupX = [366,844,1165];
groupLabels.forEach((t,i)=>{
  svg.append('text').attr('x',groupX[i]).attr('y',386).attr('text-anchor','middle').style('font-size','26px').text(t);
});
const bLefts = [64,382,709,1029], bRights = [343,663,990,1305];
const bTops = [422,742], bBots = [690,1010], bTitleY = [414,733];
const trajs = {A:trajA, B:trajB, MIX:trajMIX};

bTitles.forEach((title,k)=>{
  const r = Math.floor(k/4), c = k%4;
  const L = bLefts[c], R = bRights[c], T = bTops[r], B = bBots[r];
  const x = d3.scaleLinear().domain(bXDom[k]).range([L,R]);
  const y = d3.scaleLinear().domain(bYDom[k]).range([B,T]);
  const g = svg.append('g');
  g.append('text').attr('x',(L+R)/2).attr('y',bTitleY[r]).attr('text-anchor','middle').style('font-size','14.5px').text(title);

  const line = d3.line().x(p=>x(p[0])).y(p=>y(p[1])).curve(d3.curveLinear);
  compNames.forEach(cn=>{
    const pts = trajs[cn][k];
    g.append('path').datum(pts).attr('d',line).attr('fill','none').attr('stroke',colors[cn])
      .attr('stroke-opacity',0.6).attr('stroke-width',2.3).attr('stroke-linejoin','round').attr('stroke-linecap','round');
  });
  compNames.forEach(cn=>{
    const pts = trajs[cn][k];
    const runs = []; let cur = [];
    pts.forEach(p=>{ if(p[2]) cur.push(p); else { if(cur.length>1) runs.push(cur); cur=[]; } });
    if(cur.length>1) runs.push(cur);
    runs.forEach(run=>{
      g.append('path').datum(run).attr('d',line).attr('fill','none').attr('stroke',colors[cn])
        .attr('stroke-width',2.6).attr('stroke-linejoin','round').attr('stroke-linecap','round');
      const a = run[run.length-2], b = run[run.length-1];
      const ax = x(a[0]), ay = y(a[1]), bx = x(b[0]), by = y(b[1]);
      const ang = Math.atan2(by-ay, bx-ax)*180/Math.PI;
      g.append('path').attr('d','M2,0 L-11,-6 L-11,6 Z').attr('fill',colors[cn])
        .attr('transform',`translate(${bx},${by}) rotate(${ang})`);
    });
  });
  const xa = g.append('g').attr('transform',`translate(0,${B})`)
    .call(d3.axisBottom(x).tickValues(bXTicks[k]).tickSize(-4).tickSizeOuter(0).tickPadding(7).tickFormat(fmt(bXFmt[k])));
  styleAxis(xa);
  const ya = g.append('g').attr('transform',`translate(${L},0)`)
    .call(d3.axisLeft(y).tickValues(bYTicks[k]).tickSize(-4).tickSizeOuter(0).tickPadding(8).tickFormat(fmt(bYFmt[k])));
  styleAxis(ya);
  g.append('text').attr('x',(L+R)/2).attr('y',B-8).attr('text-anchor','middle')
    .attr('fill','#6b6b6b').style('font-size','13px').text(pc1Var[k].toFixed(1)+' %');
  g.append('text').attr('transform',`translate(${L+9},${(T+B)/2}) rotate(90)`).attr('text-anchor','middle')
    .attr('fill','#6b6b6b').style('font-size','13px').text(pc2Var[k].toFixed(1)+' %');
});
svg.append('text').attr('transform','translate(24,720) rotate(-90)').attr('text-anchor','middle')
  .style('font-size','18px').text('PC2');
svg.append('text').attr('x',686).attr('y',1047).attr('text-anchor','middle').style('font-size','18px').text('PC1');

// ---- legend ----
const lg = svg.append('g');
lg.append('text').attr('x',546).attr('y',1116).style('font-size','18px').text('components');
const legX = [662,715,767];
compNames.forEach((cn,i)=>{
  const x0 = legX[i];
  lg.append('line').attr('x1',x0).attr('x2',x0+16).attr('y1',1110).attr('y2',1110)
    .attr('stroke',colors[cn]).attr('stroke-width',3);
  lg.append('path').attr('d',`M${x0+16},${1105} L${x0+25},${1110} L${x0+16},${1115} Z`)
    .attr('fill','#fff').attr('stroke',colors[cn]).attr('stroke-width',2.6).attr('stroke-linejoin','round');
  lg.append('text').attr('x',x0+34).attr('y',1116).style('font-size','15px').text(cn);
});
</script>
</body></html>
